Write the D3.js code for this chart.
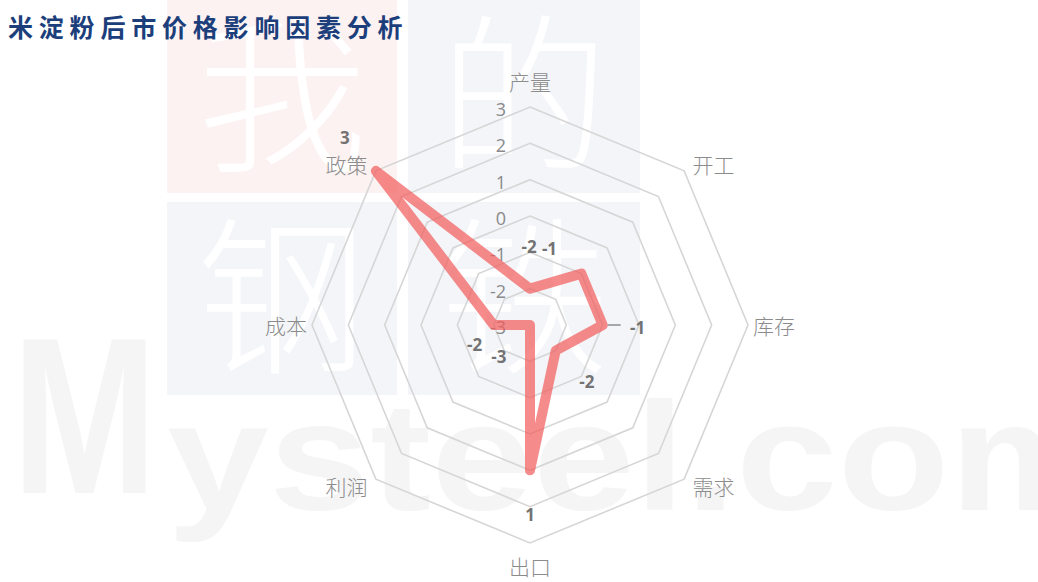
<!DOCTYPE html>
<html><head><meta charset="utf-8">
<script src="https://cdn.jsdelivr.net/npm/d3@7"></script>
<style>
html,body{margin:0;padding:0;background:#fff;}
svg{display:block;}
</style></head>
<body>
<svg id="c" width="1038" height="582"></svg>
<script>
const title = "米淀粉后市价格影响因素分析";
const categories = ["产量","开工","库存","需求","出口","利润","成本","政策"];
const values = [-2,-1,-1,-2,1,-3,-2,3];
const tickValues = [3,2,1,0,-1,-2,-3];

const W = 1038, H = 582;
const cx = 530, cy = 325, R = 218;
const svg = d3.select("#c");

// ---- watermark ----
const wm = svg.append("g");
const blocks = [
  {x:167,y:0,w:230,h:193,fill:"#fdf2f2",ch:"我"},
  {x:408,y:0,w:232,h:193,fill:"#f3f5f9",ch:"的"},
  {x:167,y:202,w:230,h:193,fill:"#f3f5f9",ch:"钢"},
  {x:408,y:202,w:232,h:193,fill:"#f3f5f9",ch:"铁"}
];
blocks.forEach((b,i)=>{
  wm.append("rect").attr("x",b.x).attr("y",b.y).attr("width",b.w).attr("height",b.h).attr("fill",b.fill);
  wm.append("text")
    .attr("x",b.x+b.w/2).attr("y",b.y+b.h/2+62)
    .attr("text-anchor","middle")
    .style("font-family","'Noto Sans CJK SC'").style("font-size","170px").style("font-weight","300")
    .attr("fill","#ffffff").text(b.ch);
});
wm.append("text").attr("x",12).attr("y",493)
  .attr("textLength",145).attr("lengthAdjust","spacingAndGlyphs")
  .style("font-family","'Liberation Sans'").style("font-weight","700").style("font-size","223px")
  .attr("fill","#f5f5f5").text("M");
wm.append("text").attr("x",167).attr("y",510)
  .attr("textLength",945).attr("lengthAdjust","spacingAndGlyphs")
  .style("font-family","'Liberation Sans'").style("font-weight","700").style("font-size","154px")
  .attr("fill","#f5f5f5").text("ysteel.com");

// ---- title ----
svg.append("text").attr("x",8).attr("y",37)
  .style("font-family","'Noto Sans CJK SC'").style("font-weight","700").style("font-size","25px")
  .style("letter-spacing","5.8px")
  .attr("fill","#1c3f7c").text(title);

// ---- radar ----
const r = d3.scaleLinear().domain([-3,3]).range([0,R]);
const n = categories.length;
const ang = i => i*2*Math.PI/n;
const g = svg.append("g").attr("transform",`translate(${cx},${cy})`);
const radial = d3.lineRadial().angle((d,i)=>ang(i)).radius(d=>r(d)).curve(d3.curveLinearClosed);

// grid rings
const ringVals = tickValues.filter(v=>r(v)>0);
g.selectAll("path.ring").data(ringVals).join("path")
  .attr("class","ring")
  .attr("d",v=>radial(categories.map(()=>v)))
  .attr("fill","none").attr("stroke","#d6d6d6").attr("stroke-width",1.6);

// tick labels
g.selectAll("text.tick").data(tickValues).join("text")
  .attr("class","tick")
  .attr("x",-24).attr("y",v=>-r(v)+2)
  .attr("text-anchor","end").attr("dominant-baseline","central")
  .style("font-family","'Open Sans'").style("font-size","18px")
  .attr("fill","#8a8a8a").text(v=>v);

// category labels
const labR = R+26;
g.selectAll("text.cat").data(categories).join("text")
  .attr("class","cat")
  .attr("x",(d,i)=>{const s=Math.sin(ang(i)),c=Math.cos(ang(i));return labR*s+11*Math.sign(Math.round(s*100))*Math.abs(2*s*c);})
  .attr("y",(d,i)=>{const s=Math.sin(ang(i)),c=Math.cos(ang(i));return Math.min(-labR*c+12*Math.sign(Math.round(c*100))*Math.abs(2*s*c), H-cy-16);})
  .attr("text-anchor","middle").attr("dominant-baseline","central")
  .style("font-family","'Noto Sans CJK SC'").style("font-weight","300").style("font-size","21px")
  .attr("fill","#8c8c8c").text(d=>d);

// series line
g.append("path").attr("d",radial(values))
  .attr("fill","none").attr("stroke","#f25a5a").attr("stroke-opacity",0.7)
  .attr("stroke-width",10).attr("stroke-linejoin","round").attr("stroke-linecap","round");

// data labels
const pt = (i,v,extra) => {
  const rr = r(v)+extra;
  return [rr*Math.sin(ang(i)), -rr*Math.cos(ang(i))];
};
const nudge = [[-1,2],[-63,6],[-9,2],[0,0],[0,0],[0,0],[25,19],[0,-2]];
const lab = values.map((v,i)=>{
  const p = pt(i,v,44);
  return {v, i, x:p[0]+nudge[i][0], y:p[1]+nudge[i][1]};
});
// leader line for moved label (库存)
const li = 2;
const lp = pt(li, values[li], 0);
g.append("line").attr("x1",lp[0]+5).attr("y1",lp[1]).attr("x2",lab[li].x-17).attr("y2",lp[1])
  .attr("stroke","#8c8c8c").attr("stroke-width",1.5);

g.selectAll("text.dl").data(lab).join("text")
  .attr("class","dl")
  .attr("x",d=>d.x).attr("y",d=>d.y)
  .attr("text-anchor","middle").attr("dominant-baseline","central")
  .style("font-family","'Open Sans'").style("font-weight","700").style("font-size","17px")
  .attr("fill","#737373").text(d=>d.v);
</script>
</body></html>
